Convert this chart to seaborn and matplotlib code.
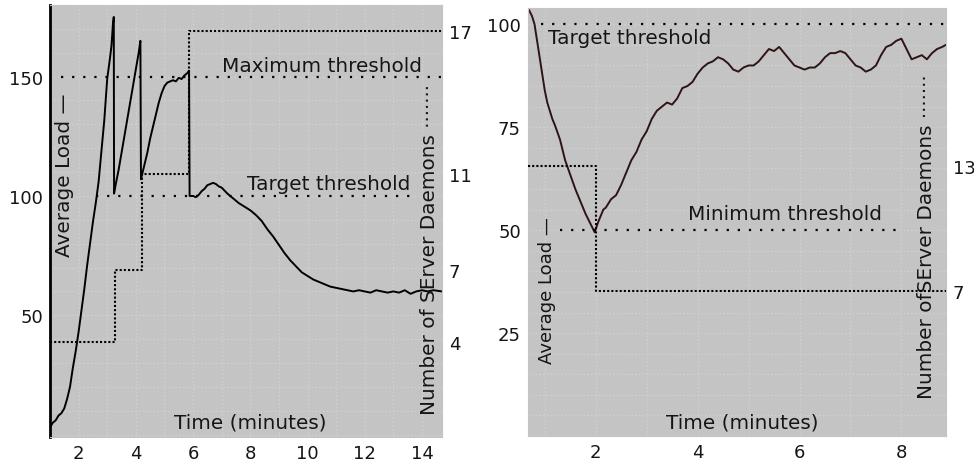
import numpy as np
import pandas as pd
import matplotlib
matplotlib.use("Agg")
import matplotlib.pyplot as plt
import seaborn as sns

# ---- left panel data (scale-up run) ----
left_time = [1.0, 1.1, 1.2, 1.3, 1.4, 1.5, 1.6, 1.7, 1.8, 1.9, 2.0, 2.1, 2.2, 2.3, 2.4,
             2.5, 2.6, 2.7, 2.8, 2.9, 3.0, 3.1, 3.15, 3.2, 3.23, 3.24,
             3.3, 3.4, 3.5, 3.6, 3.7, 3.8, 3.9, 4.0, 4.1, 4.16, 4.18,
             4.3, 4.4, 4.5, 4.6, 4.7, 4.8, 4.9, 5.0, 5.1, 5.2, 5.3, 5.4, 5.5, 5.6, 5.7,
             5.8, 5.86, 5.88, 6.0, 6.1, 6.2, 6.3, 6.4, 6.5, 6.6, 6.7, 6.8, 6.9, 7.0,
             7.2, 7.4, 7.6, 7.8, 8.0, 8.2, 8.4, 8.6, 8.8, 9.0, 9.2, 9.4, 9.6, 9.8,
             10.0, 10.2, 10.4, 10.6, 10.8, 11.0, 11.2, 11.4, 11.6, 11.8, 12.0, 12.2,
             12.4, 12.6, 12.8, 13.0, 13.2, 13.4, 13.6, 13.8, 14.0, 14.2, 14.4, 14.7]
left_load = [3, 5, 6, 8, 9, 11, 15, 20, 28, 35, 43, 52, 61, 71, 80,
             89, 97, 106, 119, 132, 149, 158, 163, 172, 175, 101,
             105, 111, 118, 125, 132, 139, 146, 153, 160, 165, 107,
             113, 118, 124, 129, 134, 139, 143, 146, 147.5, 148, 148.5, 148, 149.5, 149, 150.5,
             151.5, 152.5, 100, 100, 99.5, 100.5, 102, 103, 104.5, 105, 105.5, 105, 104, 103.5,
             101, 99, 97, 95.5, 94, 92, 89.5, 86, 83, 79.5, 76, 73, 70.5, 68,
             66.5, 65, 64, 63, 62, 61.5, 61, 60.5, 60, 60.5, 60, 59.5,
             60.5, 60, 59.5, 60, 59.5, 60.5, 59, 60, 60.5, 60, 60.5, 60]
left_srv_time = [1.0, 3.28, 4.2, 5.87, 14.7]
left_servers = [4, 7, 11, 17, 17]
left_thresholds = [150, 100]
left_thr_start = [1.37, 2.6]
left_thr_end = [14.7, 13.6]

# ---- right panel data (scale-down run) ----
right_time = [0.67, 0.75, 0.8, 0.85, 0.9, 0.95, 1.0, 1.05, 1.1, 1.15, 1.2, 1.3, 1.4, 1.5,
              1.6, 1.7, 1.8, 1.9, 1.98, 2.05, 2.1, 2.15, 2.2, 2.3, 2.4, 2.5, 2.6, 2.7,
              2.8, 2.9, 3.0, 3.1, 3.2, 3.3, 3.4, 3.5, 3.6, 3.7, 3.8, 3.9, 4.0, 4.1, 4.2,
              4.3, 4.4, 4.5, 4.6, 4.7, 4.8, 4.9, 5.0, 5.1, 5.2, 5.3, 5.4, 5.5, 5.6, 5.7,
              5.8, 5.9, 6.0, 6.1, 6.2, 6.3, 6.4, 6.5, 6.6, 6.7, 6.8, 6.9, 7.0, 7.1, 7.2,
              7.3, 7.4, 7.5, 7.6, 7.7, 7.8, 7.9, 8.0, 8.1, 8.2, 8.3, 8.4, 8.5, 8.6, 8.7,
              8.8, 8.87]
right_load = [104, 102, 100, 96, 92, 88, 84, 81, 79, 77, 75.5, 72, 67, 63.5,
              60, 57, 54, 51.5, 49.5, 52, 53.5, 55, 55.5, 57.5, 58.5, 61, 64, 67,
              69, 72, 74, 77, 79, 80, 81, 80.5, 82, 84.5, 85, 86, 88, 89.5, 90.5,
              91, 92, 91.5, 90.5, 89, 88.5, 89.5, 90, 90, 91, 92.5, 94, 93.5, 94.5, 93,
              91.5, 90, 89.5, 89, 89.5, 89.5, 90.5, 92, 93, 93, 93.5, 93, 91.5, 90, 89.5,
              88.5, 89, 90, 92.5, 94.5, 95, 96, 96.5, 94, 91.5, 92, 92.5, 91.5, 93, 94,
              94.5, 95]
right_srv_time = [0.67, 2.0, 8.87]
right_servers = [13, 7, 7]
right_thresholds = [100, 50]
right_thr_start = [0.93, 1.29]
right_thr_end = [8.87, 7.9]

sns.set_style("darkgrid", {"axes.facecolor": "#c4c4c4", "grid.color": "#d2d2d2",
                           "grid.linestyle": ":", "axes.edgecolor": "#c4c4c4"})
plt.rcParams["font.family"] = ["DejaVu Sans"]
plt.rcParams["font.size"] = 13
plt.rcParams["text.color"] = "#151515"
plt.rcParams["xtick.color"] = "#151515"
plt.rcParams["ytick.color"] = "#151515"
plt.rcParams["xtick.labelcolor"] = "#151515"
plt.rcParams["ytick.labelcolor"] = "#151515"

fig = plt.figure(figsize=(9.74, 4.64), dpi=100)
ax1 = fig.add_axes([0.0513, 0.056, 0.4025, 0.931])
ax2 = fig.add_axes([0.542, 0.058, 0.429, 0.923])

dots = (0, (1, 4))
label_fs = 14.4


def draw_panel(ax, t, load, st, srv, thr, thr_a, thr_b, xlim, ylim, ylim2,
               xticks, yticks, rticks, line_col):
    df = pd.DataFrame({"t": t, "load": load})
    sns.lineplot(data=df, x="t", y="load", ax=ax, color=line_col, lw=1.4,
                 estimator=None, sort=False)
    ax.hlines(thr, thr_a, thr_b, colors="black", linestyles=[dots], lw=1.6)
    ax.set_xlim(*xlim)
    ax.set_ylim(*ylim)
    ax.set_xticks(xticks)
    ax.set_yticks(yticks)
    ax.set_xlabel("")
    ax.set_ylabel("")
    ax.tick_params(which="both", length=0, pad=5, labelsize=13, labelcolor="#151515")
    ax.grid(True, which="both", color="#d2d2d2", ls=":", lw=1)

    axr = ax.twinx()
    sdf = pd.DataFrame({"t": st, "srv": srv})
    sns.lineplot(data=sdf, x="t", y="srv", ax=axr, color="black", lw=1.5,
                 ls=(0, (1, 1)), drawstyle="steps-post", estimator=None, sort=False)
    axr.set_ylim(*ylim2)
    axr.set_yticks(rticks)
    axr.set_ylabel("")
    axr.grid(False)
    axr.tick_params(which="both", length=0, pad=5, labelsize=13, labelcolor="#151515")
    for s in axr.spines.values():
        s.set_visible(False)
    return axr


draw_panel(ax1, left_time, left_load, left_srv_time, left_servers,
           left_thresholds, left_thr_start, left_thr_end,
           (1, 14.7), (-1, 180), (0, 18.1), [2, 4, 6, 8, 10, 12, 14],
           [50, 100, 150], [4, 7, 11, 17], "black")
ax1.set_xticks(np.arange(1, 15, 2), minor=True)
ax1.set_yticks(np.arange(0, 180, 10), minor=True)
ax1.spines["left"].set_visible(True)
ax1.spines["left"].set_color("black")
ax1.spines["left"].set_linewidth(2)

draw_panel(ax2, right_time, right_load, right_srv_time, right_servers,
           right_thresholds, right_thr_start, right_thr_end,
           (0.67, 8.87), (0, 104), (0, 20.6), [2, 4, 6, 8],
           [25, 50, 75, 100], [7, 13], "#2e1414")
ax2.set_xticks(np.arange(1, 9, 1), minor=True)
ax2.set_yticks(np.arange(0, 104, 5), minor=True)

# in-plot labels
ax1.text(0.439, 0.859, "Maximum threshold", transform=ax1.transAxes, ha="left", va="center", fontsize=label_fs)
ax1.text(0.503, 0.586, "Target threshold", transform=ax1.transAxes, ha="left", va="center", fontsize=label_fs)
ax1.text(0.51, 0.035, "Time (minutes)", transform=ax1.transAxes, ha="center", va="center", fontsize=label_fs)
ax1.text(0.038, 0.609, "Average Load —", transform=ax1.transAxes, ha="center", va="center",
         rotation=90, fontsize=label_fs)
ax1.text(0.969, 0.4375, "Number of SErver Daemons ·······", transform=ax1.transAxes,
         ha="center", va="center", rotation=90, fontsize=label_fs)

ax2.text(0.048, 0.93, "Target threshold", transform=ax2.transAxes, ha="left", va="center", fontsize=label_fs)
ax2.text(0.383, 0.519, "Minimum threshold", transform=ax2.transAxes, ha="left", va="center", fontsize=label_fs)
ax2.text(0.513, 0.033, "Time (minutes)", transform=ax2.transAxes, ha="center", va="center", fontsize=label_fs)
ax2.text(0.045, 0.343, "Average Load —", transform=ax2.transAxes, ha="center", va="center",
         rotation=90, fontsize=13)
ax2.text(0.955, 0.467, "Number ofSErver Daemons ·······", transform=ax2.transAxes,
         ha="center", va="center", rotation=90, fontsize=label_fs)

fig.savefig("out.png", dpi=100)
